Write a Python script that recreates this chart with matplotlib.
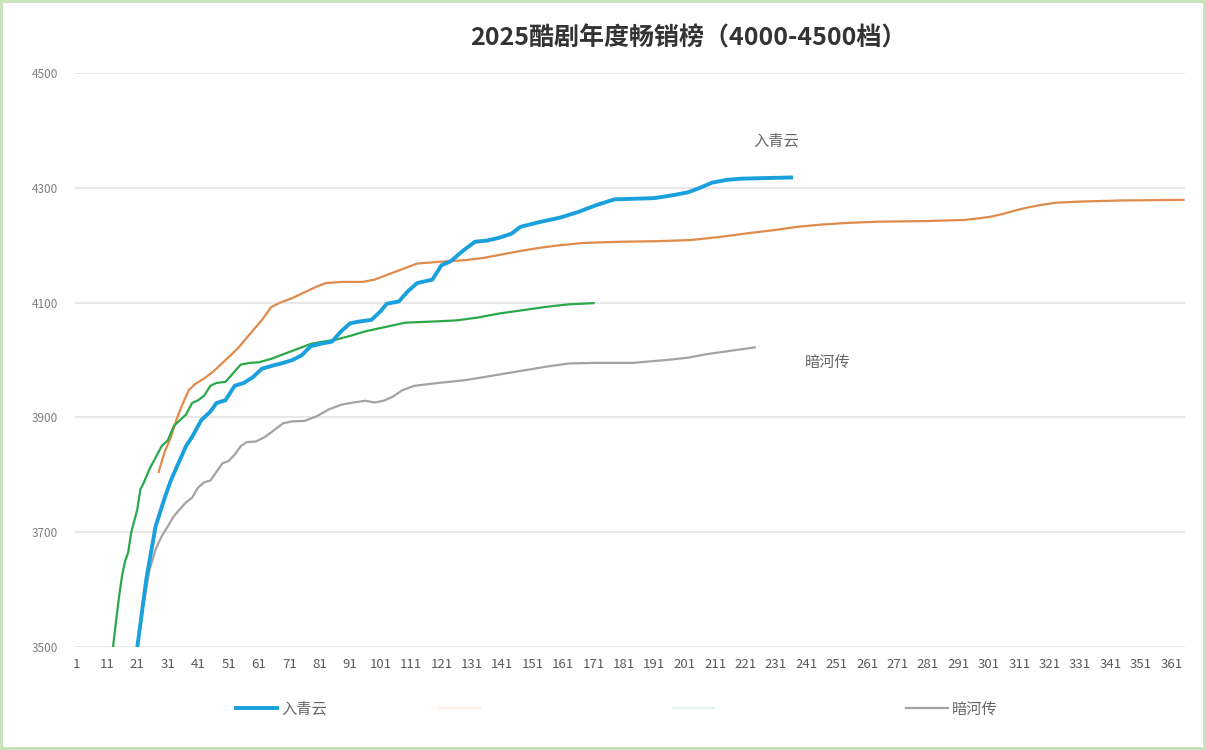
import matplotlib
matplotlib.use("Agg")
import matplotlib.pyplot as plt

plt.rcParams['font.family'] = ['Noto Sans CJK SC', 'DejaVu Sans']

# ---------------- data ----------------
title = "2025酷剧年度畅销榜（4000-4500档）"

blue_name = "入青云"
blue_days = [21, 24, 27, 30, 32, 35, 37, 39, 42, 45, 47, 50, 53, 56, 59, 62, 66, 69, 72, 75,
             78, 81, 85, 88, 91, 94, 98, 101, 103, 107, 110, 113, 118, 121, 124, 128, 132,
             136, 140, 144, 147, 153, 160, 166, 172, 178, 185, 191, 197, 202, 206, 210, 215,
             220, 228, 236]
blue_vals = [3500, 3620, 3710, 3760, 3790, 3826, 3850, 3866, 3895, 3910, 3925, 3930, 3955,
             3960, 3970, 3985, 3991, 3995, 4000, 4008, 4024, 4028, 4032, 4050, 4064, 4067,
             4070, 4085, 4098, 4102, 4120, 4134, 4140, 4165, 4172, 4190, 4206, 4208, 4213,
             4220, 4232, 4240, 4248, 4258, 4270, 4280, 4281, 4282, 4287, 4292, 4300, 4309,
             4314, 4316, 4317, 4318]

orange_days = [28, 30, 32, 34, 36, 38, 40, 43, 46, 50, 54, 58, 62, 65, 68, 72, 76, 80, 83, 88,
               95, 99, 103, 108, 113, 120, 129, 135, 140, 147, 154, 160, 168, 180, 192, 203,
               212, 222, 230, 238, 246, 255, 265, 280, 293, 298, 302, 306, 310, 314, 318, 323,
               331, 345, 365]
orange_vals = [3805, 3840, 3865, 3898, 3925, 3948, 3958, 3968, 3980, 4000, 4020, 4045, 4070,
               4092, 4100, 4108, 4118, 4128, 4134, 4136, 4136, 4140, 4148, 4158, 4168, 4171,
               4174, 4178, 4183, 4190, 4196, 4200, 4204, 4206, 4207, 4209, 4214, 4221, 4226,
               4232, 4236, 4239, 4241, 4242, 4244, 4247, 4250, 4255, 4261, 4266, 4270, 4274,
               4276, 4278, 4279]

green_days = [13, 14, 15, 16, 17, 18, 19, 21, 22, 23, 25, 26, 27, 29, 31, 33, 35, 37, 39, 41,
              43, 45, 47, 50, 53, 55, 58, 61, 65, 70, 74, 78, 82, 86, 91, 96, 103, 109, 118,
              126, 133, 140, 148, 156, 163, 171]
green_vals = [3500, 3545, 3588, 3625, 3650, 3665, 3700, 3740, 3775, 3785, 3810, 3820, 3830,
              3850, 3860, 3885, 3895, 3905, 3925, 3930, 3938, 3955, 3960, 3962, 3980, 3992,
              3995, 3996, 4002, 4012, 4020, 4028, 4032, 4035, 4042, 4050, 4058, 4065, 4067,
              4069, 4074, 4081, 4087, 4093, 4097, 4099]

gray_name = "暗河传"
gray_days = [21, 23, 25, 27, 29, 31, 33, 35, 37, 39, 41, 43, 45, 47, 49, 51, 53, 55, 57, 60,
             63, 66, 69, 72, 76, 80, 84, 88, 92, 96, 99, 102, 105, 108, 112, 120, 129, 137,
             146, 155, 163, 172, 184, 195, 202, 208, 216, 224]
gray_vals = [3500, 3575, 3634, 3670, 3693, 3710, 3728, 3740, 3752, 3760, 3778, 3787, 3790,
             3805, 3820, 3824, 3835, 3850, 3857, 3858, 3866, 3878, 3890, 3893, 3894, 3902,
             3914, 3922, 3926, 3929, 3926, 3929, 3936, 3947, 3955, 3960, 3965, 3972, 3980,
             3988, 3994, 3995, 3995, 4000, 4004, 4010, 4016, 4022]

n_days = 365
x_ticks = list(range(1, 362, 10))
y_ticks = [3500, 3700, 3900, 4100, 4300, 4500]

# ---------------- figure ----------------
fig = plt.figure(figsize=(12.06, 7.5), dpi=100)
fig.patch.set_edgecolor('#c9e3bd')
fig.patch.set_linewidth(3)
ax = fig.add_axes([75 / 1206, 1 - 647 / 750, 1110 / 1206, 574 / 750])

l_orange, = ax.plot(orange_days, orange_vals, color='#e08a4b', lw=1.6)
l_green, = ax.plot(green_days, green_vals, color='#2ba84a', lw=1.6)
l_gray, = ax.plot(gray_days, gray_vals, color='#a3a3a3', lw=1.6)
l_blue, = ax.plot(blue_days, blue_vals, color='#1aa0dc', lw=2.8)

ax.set_xlim(0.5, n_days + 0.5)
ax.set_ylim(3500, 4500)
ax.set_xticks(x_ticks)
ax.set_xticklabels([str(t) for t in x_ticks])
ax.set_yticks(y_ticks)
ax.tick_params(axis='x', length=0, labelsize=9.5, labelcolor='#595959', pad=8)
ax.tick_params(axis='y', length=0, labelsize=8.5, labelcolor='#7f7f7f', pad=12)
ax.grid(axis='y', color='#e3e3e3', lw=1.2)
ax.set_axisbelow(True)
for s in ax.spines.values():
    s.set_visible(False)

# series name labels
ax.text(231, 4381, blue_name, ha='center', va='center', fontsize=11, color='#666666')
ax.text(248, 3996, gray_name, ha='center', va='center', fontsize=11, color='#666666')

fig.text(688 / 1206, 1 - 38 / 750, title, ha='center', va='center',
         fontsize=18, fontweight='bold', color='#333333')

# legend at the bottom (the two middle names are blurred in the picture)
handles = [l_blue, l_orange, l_green, l_gray]
labels = [blue_name, '　　　　　', '　　　　　', gray_name]
leg = fig.legend(handles, labels, loc='center', bbox_to_anchor=(617 / 1206, 1 - 709 / 750),
                 ncol=4, frameon=False, fontsize=11, handlelength=2.7, handletextpad=0.3,
                 columnspacing=7.3)
for t in leg.get_texts():
    t.set_color('#666666')
leg.legend_handles[1].set_alpha(0.12)
leg.legend_handles[2].set_alpha(0.12)

fig.savefig('out.png', dpi=100)
